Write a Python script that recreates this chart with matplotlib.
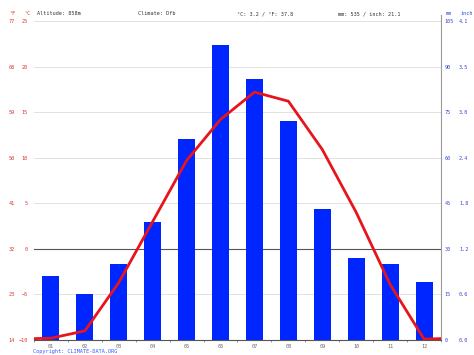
import matplotlib
matplotlib.use("Agg")
import matplotlib.pyplot as plt
import numpy as np
from matplotlib.ticker import FixedLocator, FormatStrFormatter

months = ["01", "02", "03", "04", "05", "06", "07", "08", "09", "10", "11", "12"]
temp_c = [-9.8, -9.0, -3.7, 3.0, 9.7, 14.2, 17.2, 16.2, 10.9, 4.0, -3.9, -9.9]
precip_mm = [21, 15, 25, 39, 66, 97, 86, 72, 43, 27, 25, 19]
c_ticks = [-10, -5, 0, 5, 10, 15, 20, 25]
f_ticks = [14, 23, 32, 41, 50, 59, 68, 77]
mm_ticks = [0, 15, 30, 45, 60, 75, 90, 105]
altitude = "858m"
climate = "Dfb"

FONT = "DejaVu Sans Mono"
FS = 3.7
RED = "#e8141c"
BLUE = "#0026ff"
LABEL_RED = "#e03030"
LABEL_BLUE = "#3344dd"

W, H = 474, 355


def c2f(c):
    return c * 9 / 5 + 32


def f2c(f):
    return (f - 32) * 5 / 9


def main():
    fig = plt.figure(figsize=(W / 100, H / 100), dpi=100)
    left, right, top, bottom = 34, 441, 21, 340
    ax_p = fig.add_axes([left / W, 1 - bottom / H, (right - left) / W, (bottom - top) / H])

    x = np.arange(1, 13)

    # precipitation bars (mm)
    ax_p.bar(x, precip_mm, width=0.5, color=BLUE, zorder=2)
    ax_p.set_xlim(0.5, 12.5)
    ax_p.set_ylim(0, 105)
    ax_p.set_yticks(mm_ticks)
    ax_p.grid(axis="y", color="#e2e2e2", linewidth=0.7)
    ax_p.set_axisbelow(True)
    ax_p.axhline(30, color="#555555", linewidth=0.8, zorder=1)

    ax_p.set_xticks(x)
    ax_p.set_xticklabels(months)
    ax_p.set_xticks(np.arange(0.5, 13.0, 1.0), minor=True)
    ax_p.tick_params(axis="x", which="major", length=0, pad=3, labelsize=FS, labelcolor="#666666")
    ax_p.tick_params(axis="x", which="minor", length=1.5, color="#888888", direction="out")

    for s in ["top", "left"]:
        ax_p.spines[s].set_visible(False)
    ax_p.spines["bottom"].set_color("#555555")
    ax_p.spines["bottom"].set_linewidth(0.8)
    ax_p.spines["right"].set_color("#999999")
    ax_p.spines["right"].set_linewidth(0.8)
    ax_p.spines["right"].set_bounds(0, 107)

    # temperature line (°C)
    ax_t = ax_p.twinx()
    edge = (temp_c[0] + temp_c[-1]) / 2
    xs = np.concatenate([[0.5], x, [12.5]])
    ys = np.concatenate([[edge], temp_c, [edge]])
    ax_t.plot(xs, ys, color=RED, linewidth=2.0, solid_joinstyle="round", zorder=3)
    ax_t.set_ylim(-10, 25)
    ax_t.set_yticks(c_ticks)
    ax_t.yaxis.tick_left()
    ax_t.tick_params(axis="y", length=0, pad=4.5, labelsize=FS, labelcolor=LABEL_RED)
    for s in ax_t.spines.values():
        s.set_visible(False)

    # twinx moved the mm ticks to the left, put them back
    ax_p.yaxis.tick_right()
    ax_p.tick_params(axis="y", length=0, pad=2.5, labelsize=FS, labelcolor=LABEL_BLUE)

    inch = ax_p.secondary_yaxis("right", functions=(lambda m: m / 25.4, lambda i: i * 25.4))
    inch.yaxis.set_major_locator(FixedLocator([m / 25.4 for m in mm_ticks]))
    inch.yaxis.set_major_formatter(FormatStrFormatter("%.1f"))
    inch.tick_params(length=0, pad=13, labelsize=FS, labelcolor=LABEL_BLUE)
    for s in inch.spines.values():
        s.set_visible(False)

    fahr = ax_t.secondary_yaxis("left", functions=(c2f, f2c))
    fahr.yaxis.set_major_locator(FixedLocator(f_ticks))
    fahr.tick_params(length=0, pad=14, labelsize=FS, labelcolor=LABEL_RED)
    for s in fahr.spines.values():
        s.set_visible(False)

    for lab in (ax_p.get_xticklabels() + ax_p.get_yticklabels() + inch.get_yticklabels()
                + ax_t.get_yticklabels() + fahr.get_yticklabels()):
        lab.set_family(FONT)

    # header row
    t_mean = np.mean(temp_c)
    p_sum = sum(precip_mm)
    hy = 1 - 13.5 / H
    kw = dict(fontsize=FS, family=FONT, va="center")
    fig.text(9 / W, hy, "°F", color=LABEL_RED, **kw)
    fig.text(24 / W, hy, "°C", color=LABEL_RED, **kw)
    fig.text(37 / W, hy, f"Altitude: {altitude}", color="#333333", **kw)
    fig.text(138 / W, hy, f"Climate: {climate}", color="#333333", **kw)
    fig.text(237 / W, hy, f"°C: {t_mean:.1f} / °F: {c2f(t_mean):.1f}", color="#333333", **kw)
    fig.text(338 / W, hy, f"mm: {p_sum} / inch: {p_sum / 25.4:.1f}", color="#333333", **kw)
    fig.text(446 / W, hy, "mm", color=LABEL_BLUE, **kw)
    fig.text(461 / W, hy, "inch", color=LABEL_BLUE, **kw)

    fig.text(33 / W, 1 - 351 / H, "Copyright: CLIMATE-DATA.ORG", color="#3355ff", **kw)

    fig.savefig("out.png", dpi=100, facecolor="white")
    plt.close(fig)


if __name__ == "__main__":
    main()
